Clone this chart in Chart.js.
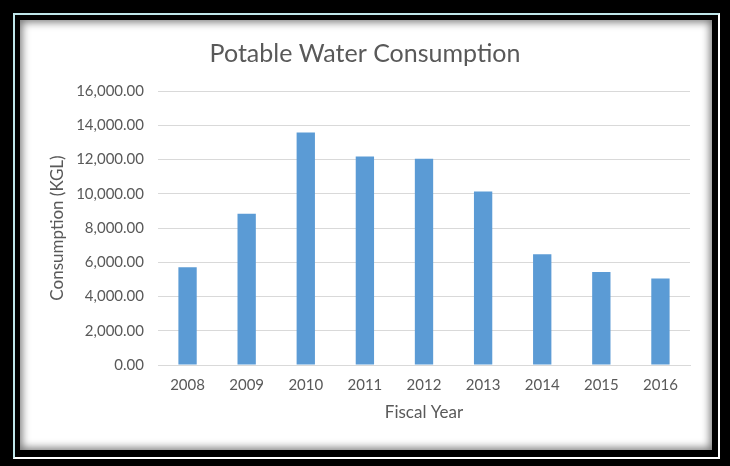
<!DOCTYPE html>
<html lang="en">
<head>
  <meta charset="UTF-8" />
  <title>Potable Water Consumption</title>
  <script src="https://cdn.jsdelivr.net/npm/chart.js"></script>
  <style>
    * { margin: 0; padding: 0; }
    body { width: 730px; height: 466px; background: #000; position: relative; overflow: hidden; font-family: Lato, sans-serif; }
    .frame {
      position: absolute; left: 13px; top: 13px; width: 703px; height: 442px;
      border: 2px solid #fff; border-top-color: #bfe6ea; border-left-color: #bfe6ea;
    }
    .panel {
      position: absolute; left: 20px; top: 20px; width: 692px; height: 430px;
      background: #fff;
      box-shadow: inset 0 0 8px 2px rgba(0,0,0,0.55);
    }
    .panel canvas { position: absolute; left: 0; top: 0; }
  </style>
</head>
<body>
  <div class="frame"></div>
  <div class="panel">
    <canvas id="water-chart" width="692" height="430"></canvas>
  </div>

  <script>
    // values
    const years = ['2008', '2009', '2010', '2011', '2012', '2013', '2014', '2015', '2016'];
    const consumption = [5710, 8830, 13580, 12180, 12050, 10130, 6470, 5430, 5050];
    const yTicksMax = 16000;
    const yTickStep = 2000;

    const fmt = new Intl.NumberFormat('en-US', { minimumFractionDigits: 2, maximumFractionDigits: 2 });
    const grey = '#595959';

    Chart.defaults.font.family = 'Lato, sans-serif';
    Chart.defaults.color = grey;

    new Chart(document.getElementById('water-chart').getContext('2d'), {
      type: 'bar',
      data: {
        labels: years,
        datasets: [{
          label: 'Consumption',
          data: consumption,
          backgroundColor: '#5B9BD5',
          borderWidth: 0,
          barPercentage: 1,
          categoryPercentage: 0.31
        }]
      },
      options: {
        responsive: false,
        animation: false,
        layout: { padding: { left: 20, right: 22, top: 0, bottom: 15 } },
        plugins: {
          legend: { display: false },
          tooltip: { enabled: false },
          title: {
            display: true,
            text: 'Potable Water Consumption',
            color: grey,
            font: { size: 25, weight: 'normal' },
            padding: { top: 19, bottom: 22 }
          }
        },
        scales: {
          x: {
            grid: { display: false, drawTicks: false },
            border: { color: '#d9d9d9' },
            ticks: { padding: 11, font: { size: 15 }, color: grey },
            title: { display: true, text: 'Fiscal Year', color: grey, font: { size: 17 }, padding: { bottom: 12 } },
            afterFit: s => { s.height = 70; }
          },
          y: {
            min: 0,
            max: yTicksMax,
            grid: { color: '#d9d9d9', drawTicks: false },
            border: { display: false },
            ticks: { stepSize: yTickStep, padding: 14, font: { size: 15 }, color: grey, callback: v => fmt.format(v) },
            title: { display: true, text: 'Consumption (KGL)', color: grey, font: { size: 17 }, padding: { top: 7 } },
            afterFit: s => { s.width = 118; }
          }
        }
      }
    });
  </script>
</body>
</html>
